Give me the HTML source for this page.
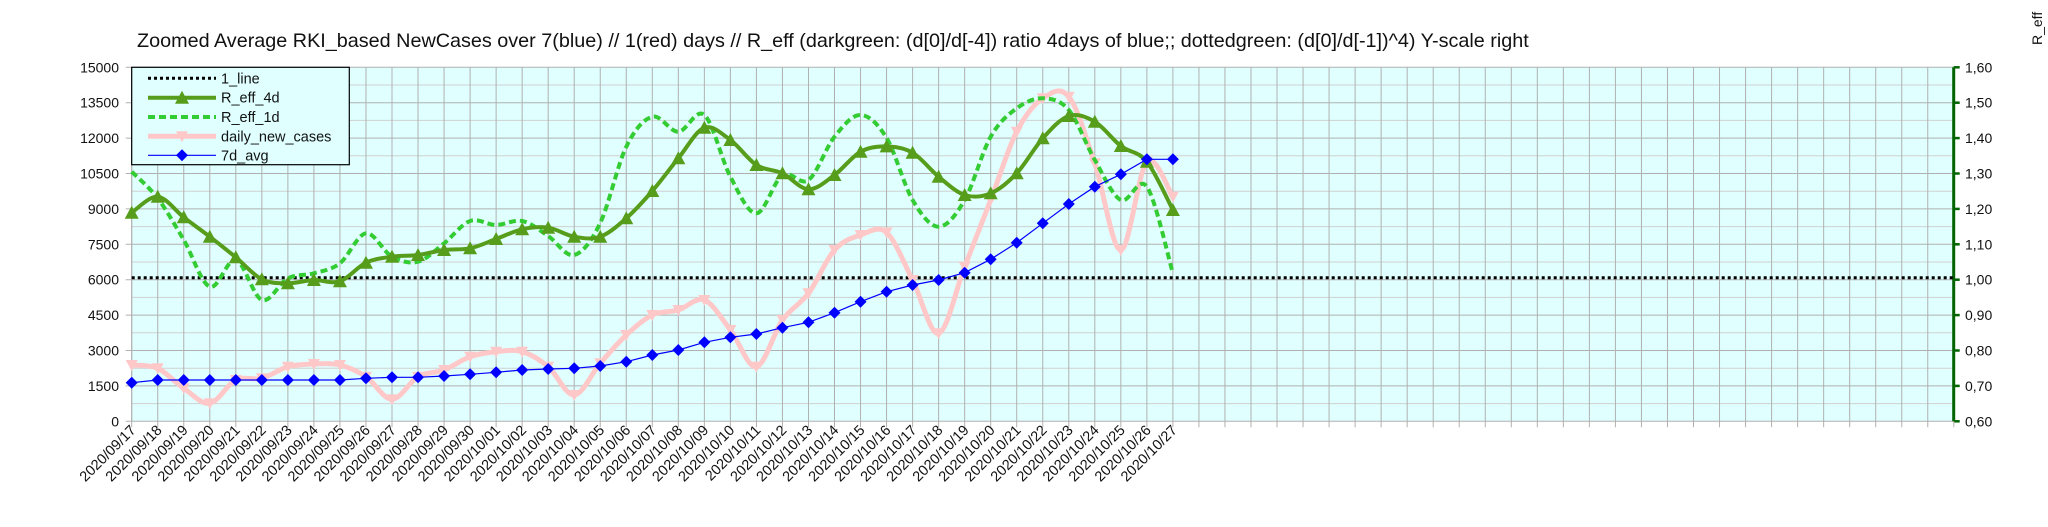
<!DOCTYPE html>
<html><head><meta charset="utf-8"><style>
body{margin:0;background:#fff;}
svg{display:block;font-family:"Liberation Sans",sans-serif;}
</style></head><body>
<svg id="s" width="2048" height="527" xmlns="http://www.w3.org/2000/svg">
<rect x="0" y="0" width="2048" height="527" fill="#fff"/>
<text x="137" y="47" font-size="19.8" fill="#111">Zoomed Average RKI_based NewCases over 7(blue) // 1(red) days //  R_eff (darkgreen: (d[0]/d[-4]) ratio 4days of blue;; dottedgreen: (d[0]/d[-1])^4) Y-scale right</text>
<text transform="translate(2042,45) rotate(-90)" font-size="14" fill="#111">R_eff</text>
<g id="g"></g>
</svg>
<script>
const g=document.getElementById('g');
let h='';
const L=131.7,R=1953.7,T=67.3,B=421.3,DX=26.03;
h+=`<rect x="${L}" y="${T}" width="${R-L}" height="${B-T}" fill="#e0ffff"/>`;
const step=(B-T)/10;
for(let i=0;i<20;i++){const y=T+i*step/2; if(i%2==1)h+=`<line x1="${L}" x2="${R}" y1="${y}" y2="${y}" stroke="#d0d0d0" stroke-width="1"/>`;}
for(let i=0;i<=10;i++){const y=T+i*step;h+=`<line x1="${L-6}" x2="${R}" y1="${y}" y2="${y}" stroke="#b0b0b0" stroke-width="1"/>`;
h+=`<text x="119" y="${y+5}" font-size="14" text-anchor="end" fill="#111">${15000-i*1500}</text>`;
const rv=(1.6-i*0.1).toFixed(2).replace('.',',');
h+=`<text x="1965" y="${y+5}" font-size="14" fill="#111">${rv}</text>`;
h+=`<line x1="${R}" x2="${R+6}" y1="${y}" y2="${y}" stroke="#006400" stroke-width="2.5"/>`;}
for(let i=0;i<=70;i++){const x=L+i*DX;h+=`<line x1="${x}" x2="${x}" y1="${T}" y2="${B+6}" stroke="#b0b0b0" stroke-width="1"/>`;}
h+=`<line x1="${L}" x2="${L}" y1="${T}" y2="${B}" stroke="#b0b0b0"/>`;
h+=`<line x1="${R}" x2="${R}" y1="${T}" y2="${B}" stroke="#006400" stroke-width="3"/>`;
const d0=new Date(2020,8,17);
for(let i=0;i<=40;i++){const d=new Date(d0.getTime()+i*86400000+3600000*3);
const s=`2020/${String(d.getMonth()+1).padStart(2,'0')}/${String(d.getDate()).padStart(2,'0')}`;
const x=L+i*DX+5;h+=`<text transform="translate(${x},431) rotate(-45)" font-size="14.5" text-anchor="end" fill="#111">${s}</text>`;}
h+=`<line x1="${L}" x2="${R}" y1="277.7" y2="277.7" stroke="#000" stroke-width="3" stroke-dasharray="3,3"/>`;
function path(ys){const p=ys.map((y,i)=>[L+i*DX,y]);let d=`M${p[0][0]},${p[0][1]}`;
for(let i=0;i<p.length-1;i++){const p0=p[Math.max(0,i-1)],p1=p[i],p2=p[i+1],p3=p[Math.min(p.length-1,i+2)];
const c1=[p1[0]+(p2[0]-p0[0])/6,p1[1]+(p2[1]-p0[1])/6],c2=[p2[0]-(p3[0]-p1[0])/6,p2[1]-(p3[1]-p1[1])/6];
d+=` C${c1[0].toFixed(1)},${c1[1].toFixed(1)} ${c2[0].toFixed(1)},${c2[1].toFixed(1)} ${p2[0].toFixed(1)},${p2[1]}`;}return d;}
const r4=[212.7,196.7,217.3,236.7,257.3,279.3,283.3,280,281.3,262.7,256.7,255,250,248.3,239,229.3,227.7,236.7,236.7,218.3,191,158.3,127.7,140,165,173.3,189.3,175,151.7,146.4,152.7,176.7,195,193.3,173.3,138.3,116,121.7,146,161.7,210];
const r1=[171.7,198.3,240,286.7,260,300,278.3,273.3,263.3,233.3,256.7,261.7,243.3,221,225,221,236,255,223,146.7,116.7,131.7,115,176.7,213.3,175,180,136.7,115,138,200,226.7,200,136.7,108.3,98.3,110,160,200,186.7,273.3];
const pk=[365,368.3,388.3,403.3,380,378.3,366.7,364,365,376.7,399.3,376.7,370,356.7,351.7,351.7,366.7,395,363.3,335,315,310,300,330,366.7,320,293.3,250,235,232.5,280,333.3,266.7,200,131.7,98.3,96.7,163.3,250,161.7,196.7];
const bl=[382.7,380,380,380,380,380,380,380,380,378.3,377.3,377.3,376,374.3,372.3,370,369,368.3,366,361.7,355,350,342.3,337.3,334,327.7,322.3,312.7,301.7,291.7,285,280,272.7,259.3,242.7,223.3,204,186.7,174.3,159.3,159.3];
h+=`<path d="${path(pk)}" fill="none" stroke="#ffc8c8" stroke-width="5"/>`;
pk.forEach((y,i)=>{const x=L+i*DX;h+=`<polygon points="${x-6},${y-5} ${x+6},${y-5} ${x},${y+6}" fill="#ffc8c8"/>`;});
h+=`<path d="${path(r1)}" fill="none" stroke="#33cc33" stroke-width="4" stroke-dasharray="7,4"/>`;
h+=`<path d="${path(r4)}" fill="none" stroke="#579d1c" stroke-width="4"/>`;
r4.forEach((y,i)=>{const x=L+i*DX;h+=`<polygon points="${x-7},${y+6} ${x+7},${y+6} ${x},${y-7}" fill="#579d1c"/>`;});
h+=`<polyline points="${bl.map((y,i)=>(L+i*DX)+','+y).join(' ')}" fill="none" stroke="#0000ff" stroke-width="1.2"/>`;
bl.forEach((y,i)=>{const x=L+i*DX;h+=`<polygon points="${x},${y-6} ${x+6},${y} ${x},${y+6} ${x-6},${y}" fill="#0000ff"/>`;});
h+=`<rect x="131.7" y="67.3" width="217.6" height="97.4" fill="#e0ffff" stroke="#000" stroke-width="1.2"/>`;
const ly=[78.3,97.7,117,136.3,155.3],lt=['1_line','R_eff_4d','R_eff_1d','daily_new_cases','7d_avg'];
h+=`<line x1="148" x2="216" y1="${ly[0]}" y2="${ly[0]}" stroke="#000" stroke-width="3" stroke-dasharray="3,3"/>`;
h+=`<line x1="148" x2="216" y1="${ly[1]}" y2="${ly[1]}" stroke="#579d1c" stroke-width="4"/><polygon points="175,${ly[1]+6} 189,${ly[1]+6} 182,${ly[1]-7}" fill="#579d1c"/>`;
h+=`<line x1="148" x2="216" y1="${ly[2]}" y2="${ly[2]}" stroke="#33cc33" stroke-width="4" stroke-dasharray="7,4"/>`;
h+=`<line x1="148" x2="216" y1="${ly[3]}" y2="${ly[3]}" stroke="#ffc8c8" stroke-width="5"/><polygon points="176,${ly[3]-5} 188,${ly[3]-5} 182,${ly[3]+6}" fill="#ffc8c8"/>`;
h+=`<line x1="148" x2="216" y1="${ly[4]}" y2="${ly[4]}" stroke="#0000ff" stroke-width="1.2"/><polygon points="182,${ly[4]-6} 188,${ly[4]} 182,${ly[4]+6} 176,${ly[4]}" fill="#0000ff"/>`;
lt.forEach((t,i)=>{h+=`<text x="221" y="${ly[i]+5}" font-size="14.5" fill="#111">${t}</text>`;});
g.innerHTML=h;
</script>
</body></html>
